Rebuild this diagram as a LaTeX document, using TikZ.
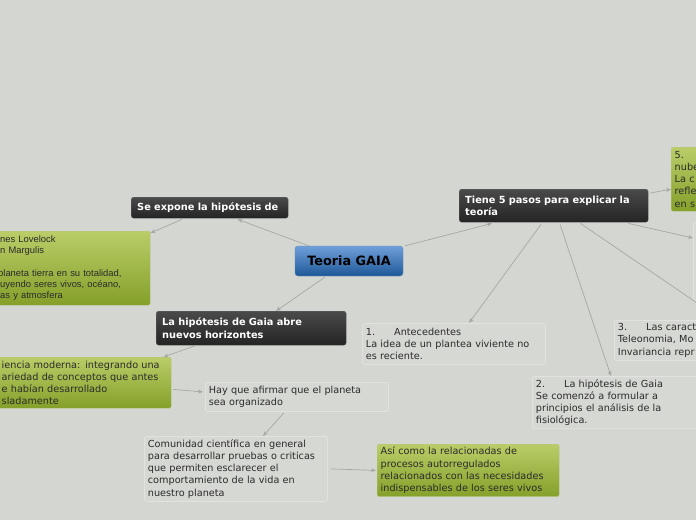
\documentclass[tikz,border=0pt]{standalone}
\usepackage{fontspec}
\setmainfont{DejaVu Sans}
\newfontfamily\arialfont{Liberation Sans}
\usetikzlibrary{arrows.meta,calc}
\definecolor{bgc}{HTML}{D4D6D2}
\definecolor{linec}{HTML}{A6A8A4}
\definecolor{boxline}{HTML}{E2E3E0}
\definecolor{txtc}{HTML}{2B2B2B}

\begin{document}
\begin{tikzpicture}[
    x=1pt, y=-1pt,
    conn/.style={-{Stealth[length=5pt,width=4pt]}, line width=0.7pt, linec},
    topic/.style={anchor=north west, rounded corners=2.5pt, top color=darktop, bottom color=darkbot,
      draw=darkbot!70!white, line width=0.4pt, text=white, align=left,
      font=\fontsize{9.8}{12.5}\selectfont\bfseries, inner xsep=6pt, inner ysep=3pt},
    greenbox/.style={anchor=north west, rounded corners=2pt, top color=greentop, bottom color=greenbot,
      draw=greenbot!60!white, line width=0.4pt, text=txtc, align=left,
      font=\fontsize{9.7}{12.2}\selectfont, inner xsep=3.5pt, inner ysep=3pt},
    graybox/.style={anchor=north west, rounded corners=2pt, fill=bgc!96!white, draw=boxline,
      line width=0.8pt, text=txtc, align=left,
      font=\fontsize{9.7}{12.2}\selectfont, inner xsep=3.5pt, inner ysep=3pt},
  ]
    \definecolor{darktop}{HTML}{4A4A4A}
    \definecolor{darkbot}{HTML}{242424}
    \definecolor{greentop}{HTML}{BACD68}
    \definecolor{greenbot}{HTML}{84A02A}
    \definecolor{bluetop}{HTML}{6F9FDA}
    \definecolor{bluebot}{HTML}{1E5898}

    % ===== canvas =====
    \useasboundingbox (0,0) rectangle (696,520);
    \fill[bgc] (0,0) rectangle (696,520);
    \clip (0,0) rectangle (696,520);

    % ===== central topic =====
    \node[rounded corners=3pt, top color=bluetop, bottom color=bluebot, draw=bluebot!70!white,
      minimum width=108pt, minimum height=30pt, font=\fontsize{12.8}{14}\selectfont\bfseries]
      (tema) at (349,261) {Teoria GAIA};

    % ===== main branches =====
    \node[topic, text width=145pt, minimum height=21pt, inner ysep=2pt] (expone) at (131,197)
      {Se expone la hipótesis de};
    \node[topic, text width=177pt, minimum height=33pt] (pasos) at (459,189)
      {Tiene 5 pasos para explicar la\\teoría};
    \node[topic, text width=178pt, minimum height=34pt] (abre) at (156,311)
      {La hipótesis de Gaia abre\\nuevos horizontes};

    % ===== left side =====
    \node[greenbox, text width=206pt, minimum height=74pt, inner xsep=2pt,
      font=\arialfont\fontsize{9.4}{11.3}\selectfont] (autores) at (-60,231)
      {\hspace*{58pt}nes Lovelock\\\hspace*{58pt}n Margulis\\[11.3pt]\hspace*{56pt}planeta tierra en su totalidad,\\
       \hspace*{58pt}uyendo seres vivos, océano,\\\hspace*{58pt}as y atmosfera};
    \node[greenbox, text width=224pt, minimum height=51pt] (ciencia) at (-60,357)
      {\hspace*{58pt}iencia moderna: integrando una\\\hspace*{58pt}ariedad de conceptos que antes\\
       \hspace*{58pt}e habían desarrollado\\\hspace*{58pt}sladamente};
    \node[graybox, text width=176pt, minimum height=29pt] (afirmar) at (205,382)
      {Hay que afirmar que el planeta\\sea organizado};
    \node[graybox, text width=176pt, minimum height=65pt] (comunidad) at (144,436)
      {Comunidad científica en general\\para desarrollar pruebas o criticas\\que permiten esclarecer el\\
       comportamiento de la vida en\\nuestro planeta};
    \node[greenbox, text width=175pt, minimum height=52pt] (procesos) at (377,444)
      {Así como la relacionadas de\\procesos autorregulados\\relacionados con las necesidades\\
       indispensables de los seres vivos};

    % ===== the five steps =====
    \node[graybox, text width=176pt, minimum height=41pt] (paso1) at (362,323)
      {1.\hspace{19pt}Antecedentes\\La idea de un plantea viviente no\\es reciente.};
    \node[graybox, text width=176pt, minimum height=52pt] (paso2) at (532,376)
      {2.\hspace{19pt}La hipótesis de Gaia\\Se comenzó a formular a\\principios el análisis de la\\fisiológica.};
    \node[graybox, text width=176pt, minimum height=40pt] (paso3) at (614,320)
      {3.\hspace{19pt}Las caract\\Teleonomia, Mo\\Invariancia repr};
    \node[graybox, text width=176pt, minimum height=78pt] (paso4) at (693,222) {};
    \node[greenbox, text width=176pt, minimum height=64pt] (paso5) at (671,147)
      {5.\\nube\\La c\\refle\\en s};

    % ===== connectors =====
    \draw[conn] ($(tema.north west)+(14,0)$) -- ($(expone.south)+(28,1)$);
    \draw[conn] ($(expone.south west)+(51,1)$) -- ($(autores.north east)+(0,2)$);
    \draw[conn] ($(tema.south west)+(30,1)$) -- ($(abre.north west)+(120,0)$);
    \draw[conn] ($(tema.north east)+(2,0)$) -- ($(pasos.south west)+(33,1)$);
    \draw[conn] ($(pasos.north east)+(2,4)$) -- ($(paso5.west)+(0,10)$);
    \draw[conn] ($(pasos.south east)+(-20,1)$) -- ($(paso4.north west)+(0,16)$);
    \draw[conn] ($(pasos.south east)+(-68,1)$) -- ($(paso3.north west)+(108,0)$);
    \draw[conn] ($(pasos.south west)+(101,2)$) -- ($(paso2.north west)+(79,0)$);
    \draw[conn] ($(pasos.south west)+(82,2)$) -- ($(paso1.north west)+(107,0)$);
    \draw[conn] ($(abre.south west)+(40,0)$) -- ($(ciencia.north east)+(-8,0)$);
    \draw[conn] ($(ciencia.south east)+(2,-19)$) -- ($(afirmar.west)+(-2,-5)$);
    \draw[conn] ($(afirmar.south west)+(79,1)$) -- ($(comunidad.north west)+(119,0)$);
    \draw[conn] ($(comunidad.east)+(3,0)$) -- ($(procesos.west)+(-1,0)$);

  \end{tikzpicture}
\end{document}
